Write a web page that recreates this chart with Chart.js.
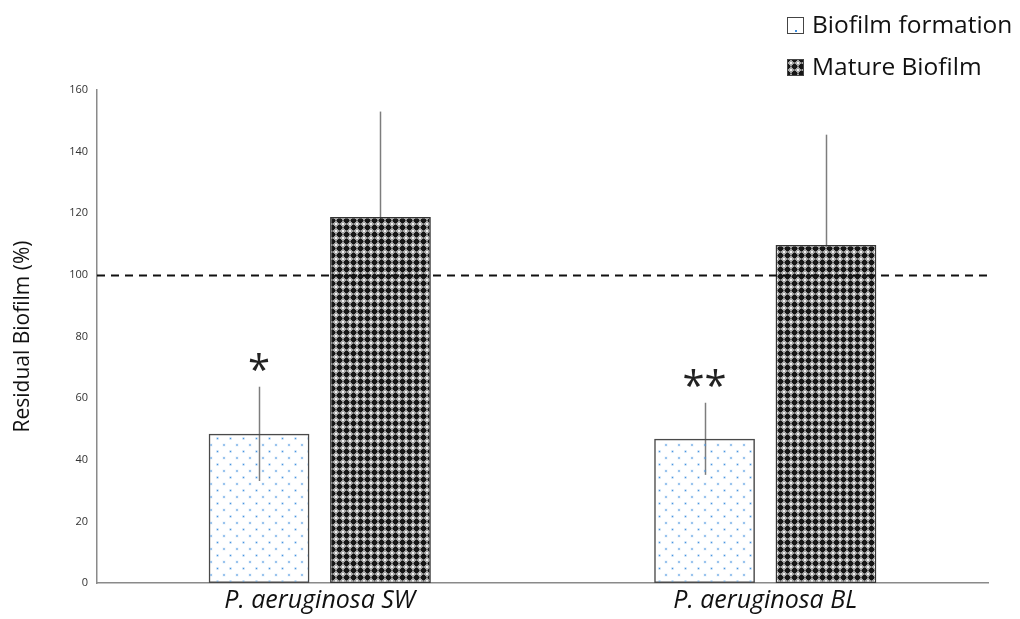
<!DOCTYPE html>
<html>
<head>
<meta charset="utf-8">
<script src="https://cdn.jsdelivr.net/npm/chart.js@4/dist/chart.umd.min.js"></script>
<style>
  html, body { margin: 0; padding: 0; background: #fff; }
  #wrap { width: 1020px; height: 619px; position: relative; }
</style>
</head>
<body>
<div id="wrap"><canvas id="c" width="1020" height="619"></canvas></div>
<script>
// Strains on the x axis
const categories = ['P. aeruginosa SW', 'P. aeruginosa BL'];
// Residual biofilm (%) per strain
const formationValues = [48.4, 46.8];
const formationErrors = [15.3, 11.7];
const matureValues = [118.8, 109.7];
const matureErrors = [34.2, 35.8];
// Significance marks above the biofilm-formation bars
const significance = ['*', '**'];
const yTicks = [0, 20, 40, 60, 80, 100, 120, 140, 160];
const referenceLevel = 100;

const FONT = "'Open Sans', 'Liberation Sans', sans-serif";

// Dotted fill: staggered light-blue dots on a clear background
function dotPattern() {
  const t = document.createElement('canvas');
  t.width = 13; t.height = 13;
  const g = t.getContext('2d');
  g.fillStyle = 'rgba(61,143,224,0.12)';
  g.fillRect(1.5, 1.5, 3, 3);
  g.fillRect(8, 8, 3, 3);
  g.fillStyle = '#4a96e0';
  g.fillRect(2.3, 2.3, 1.4, 1.4);
  g.fillRect(8.8, 8.8, 1.4, 1.4);
  return t;
}
// Lattice fill: black crosses on grey with white squares between them
function latticePattern() {
  const t = document.createElement('canvas');
  t.width = 7; t.height = 7;
  const g = t.getContext('2d');
  g.fillStyle = '#a4a4a4';
  g.fillRect(0, 0, 7, 7);
  g.fillStyle = '#161616';
  g.fillRect(2, 1, 3, 5);
  g.fillRect(1, 2, 5, 3);
  g.fillStyle = '#5a5a5a';
  g.fillRect(3, 0, 1, 1);
  g.fillRect(3, 6, 1, 1);
  g.fillRect(0, 3, 1, 1);
  g.fillRect(6, 3, 1, 1);
  g.fillStyle = '#f2f2f2';
  g.fillRect(0, 0, 1, 1);
  g.fillRect(6, 0, 1, 1);
  g.fillRect(0, 6, 1, 1);
  g.fillRect(6, 6, 1, 1);
  return t;
}

const ctx0 = document.getElementById('c').getContext('2d');
const dotFill = ctx0.createPattern(dotPattern(), 'repeat');
const latticeFill = ctx0.createPattern(latticePattern(), 'repeat');

const errorBars = {
  id: 'errorBars',
  beforeDatasetsDraw(chart) {
    const { ctx, scales: { y } } = chart;
    const errs = [formationErrors, matureErrors];
    ctx.save();
    ctx.strokeStyle = '#7d7d7d';
    ctx.lineWidth = 1.5;
    chart.data.datasets.forEach((ds, di) => {
      const meta = chart.getDatasetMeta(di);
      meta.data.forEach((bar, i) => {
        const v = ds.data[i], e = errs[di][i];
        const x = Math.round(bar.x) + 0.5;
        ctx.beginPath();
        ctx.moveTo(x, y.getPixelForValue(v + e));
        ctx.lineTo(x, y.getPixelForValue(v - e));
        ctx.stroke();
      });
    });
    ctx.restore();
  }
};

const refLine = {
  id: 'refLine',
  afterDatasetsDraw(chart) {
    const { ctx, chartArea, scales: { y } } = chart;
    const py = Math.round(y.getPixelForValue(referenceLevel)) + 0.5;
    ctx.save();
    ctx.strokeStyle = '#111';
    ctx.lineWidth = 2;
    ctx.setLineDash([8, 6]);
    ctx.beginPath();
    ctx.moveTo(chartArea.left, py);
    ctx.lineTo(chartArea.right, py);
    ctx.stroke();
    ctx.restore();
  }
};

const marks = {
  id: 'marks',
  afterDraw(chart) {
    const { ctx, scales: { y } } = chart;
    const meta = chart.getDatasetMeta(0);
    ctx.save();
    ctx.fillStyle = '#222';
    ctx.font = `40px ${FONT}`;
    ctx.textAlign = 'center';
    ctx.textBaseline = 'middle';
    meta.data.forEach((bar, i) => {
      const top = y.getPixelForValue(formationValues[i] + formationErrors[i]);
      ctx.fillText(significance[i], bar.x, top - 14);
    });
    ctx.restore();
  }
};

const customLegend = {
  id: 'customLegend',
  afterDraw(chart) {
    const { ctx } = chart;
    const items = [
      { text: 'Biofilm formation', y: 26, kind: 'dots' },
      { text: 'Mature Biofilm', y: 68, kind: 'lattice' }
    ];
    ctx.save();
    items.forEach(it => {
      const bx = 787, by = it.y - 9, s = 17;
      if (it.kind === 'lattice') {
        ctx.fillStyle = latticeFill;
        ctx.fillRect(bx, by, s, s);
      } else {
        ctx.fillStyle = '#fff';
        ctx.fillRect(bx, by, s, s);
        ctx.fillStyle = '#3d8fe0';
        ctx.fillRect(bx + 8, by + s - 4, 2, 2);
      }
      ctx.strokeStyle = '#444';
      ctx.lineWidth = 1;
      ctx.strokeRect(bx + 0.5, by + 0.5, s - 1, s - 1);
      ctx.fillStyle = '#111';
      ctx.font = `24.5px ${FONT}`;
      ctx.textAlign = 'left';
      ctx.textBaseline = 'middle';
      ctx.fillText(it.text, 812, it.y);
    });
    ctx.restore();
  }
};

new Chart(ctx0, {
  type: 'bar',
  data: {
    labels: categories,
    datasets: [
      {
        label: 'Biofilm formation',
        data: formationValues,
        backgroundColor: dotFill,
        borderColor: '#4a4a4a',
        borderWidth: 1.5,
        borderSkipped: false
      },
      {
        label: 'Mature Biofilm',
        data: matureValues,
        backgroundColor: latticeFill,
        borderColor: '#333',
        borderWidth: 1.5,
        borderSkipped: false
      }
    ]
  },
  options: {
    responsive: false,
    animation: false,
    layout: { padding: { top: 90, right: 32, left: 10, bottom: 0 } },
    datasets: { bar: { categoryPercentage: 0.545, barPercentage: 0.83 } },
    plugins: {
      legend: { display: false },
      tooltip: { enabled: false }
    },
    scales: {
      x: {
        grid: { display: false, drawTicks: false },
        border: { display: true, color: '#8a8a8a', width: 1.5 },
        ticks: {
          color: '#111',
          padding: 3,
          font: { family: FONT, size: 25, style: 'italic' }
        },
        afterFit(s) { s.height = 36; }
      },
      y: {
        min: 0,
        max: 160,
        afterBuildTicks(s) { s.ticks = yTicks.map(v => ({ value: v })); },
        grid: { display: false, drawTicks: false },
        border: { display: true, color: '#8a8a8a', width: 1.5 },
        ticks: {
          color: '#333',
          padding: 9,
          font: { family: FONT, size: 11 }
        },
        title: {
          display: true,
          text: 'Residual Biofilm (%)',
          color: '#111',
          padding: { top: 0, bottom: 0 },
          font: { family: FONT, size: 21 }
        },
        afterFit(s) { s.width = 87; }
      }
    }
  },
  plugins: [errorBars, refLine, marks, customLegend]
});
</script>
</body>
</html>
